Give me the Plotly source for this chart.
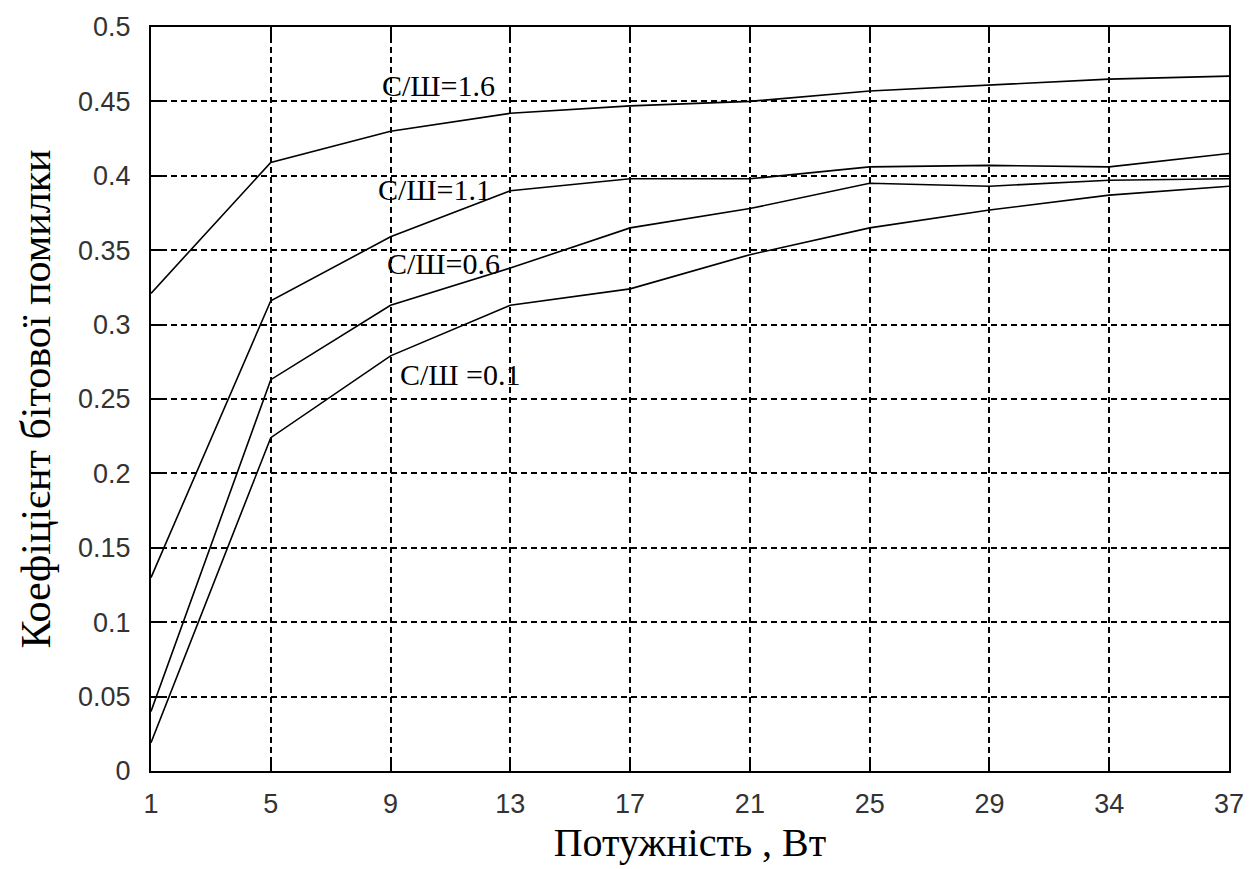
import plotly.graph_objects as go

power = ["1", "5", "9", "13", "17", "21", "25", "29", "34", "37"]
snr_16 = [0.321, 0.409, 0.430, 0.442, 0.447, 0.450, 0.457, 0.461, 0.465, 0.467]
snr_11 = [0.130, 0.316, 0.359, 0.390, 0.398, 0.398, 0.406, 0.407, 0.406, 0.415]
snr_06 = [0.040, 0.263, 0.313, 0.338, 0.365, 0.378, 0.395, 0.393, 0.397, 0.398]
snr_01 = [0.019, 0.224, 0.279, 0.313, 0.324, 0.347, 0.365, 0.377, 0.387, 0.393]
series_names = ["С/Ш=1.6", "С/Ш=1.1", "С/Ш=0.6", "С/Ш =0.1"]
label_pos_x = [2.40, 2.37, 2.44, 2.58]
label_pos_y = [0.461, 0.3906, 0.341, 0.2666]
y_ticks = [0, 0.05, 0.1, 0.15, 0.2, 0.25, 0.3, 0.35, 0.4, 0.45, 0.5]
y_tick_text = ["0", "0.05", "0.1", "0.15", "0.2", "0.25", "0.3", "0.35", "0.4", "0.45", "0.5"]

fig = go.Figure()
for name, ys in zip(series_names, [snr_16, snr_11, snr_06, snr_01]):
    fig.add_trace(go.Scatter(x=power, y=ys, mode="lines", name=name,
                             line=dict(color="black", width=1.6), showlegend=False))

for name, lx, ly in zip(series_names, label_pos_x, label_pos_y):
    fig.add_annotation(x=lx, y=ly, text=name, showarrow=False, xref="x", yref="y",
                       font=dict(family="Liberation Serif", size=30, color="black"))

axis_common = dict(
    showline=True, linecolor="black", linewidth=2, mirror="ticks",
    ticks="inside", ticklen=10, tickwidth=1.5, tickcolor="black",
    showgrid=True, gridcolor="black", gridwidth=1.5, griddash="6px,4px",
    zeroline=False,
    tickfont=dict(family="Liberation Sans", size=27, color="#333"),
)

fig.update_xaxes(type="category", categoryorder="array", categoryarray=power,
                 range=[0, 9], ticklabelstandoff=8,
                 title=dict(text="Потужність , Вт",
                 font=dict(family="Liberation Serif", size=40, color="black"), standoff=10),
                 **axis_common)
fig.update_yaxes(range=[0, 0.5], tickvals=y_ticks, ticktext=y_tick_text,
                 ticklabelstandoff=13,
                 title=dict(text="Коефіцієнт бітової помилки",
                 font=dict(family="Liberation Serif", size=42, color="black"), standoff=14),
                 **axis_common)

fig.update_layout(
    width=1256, height=869,
    margin=dict(l=151, r=17, t=23, b=92),
    plot_bgcolor="white", paper_bgcolor="white",
)

fig.write_html(
    "out.html",
    config={"displayModeBar": False},
    post_script="document.documentElement.style.overflow='hidden';"
                "document.body.style.margin='0';document.body.style.overflow='hidden';",
)
